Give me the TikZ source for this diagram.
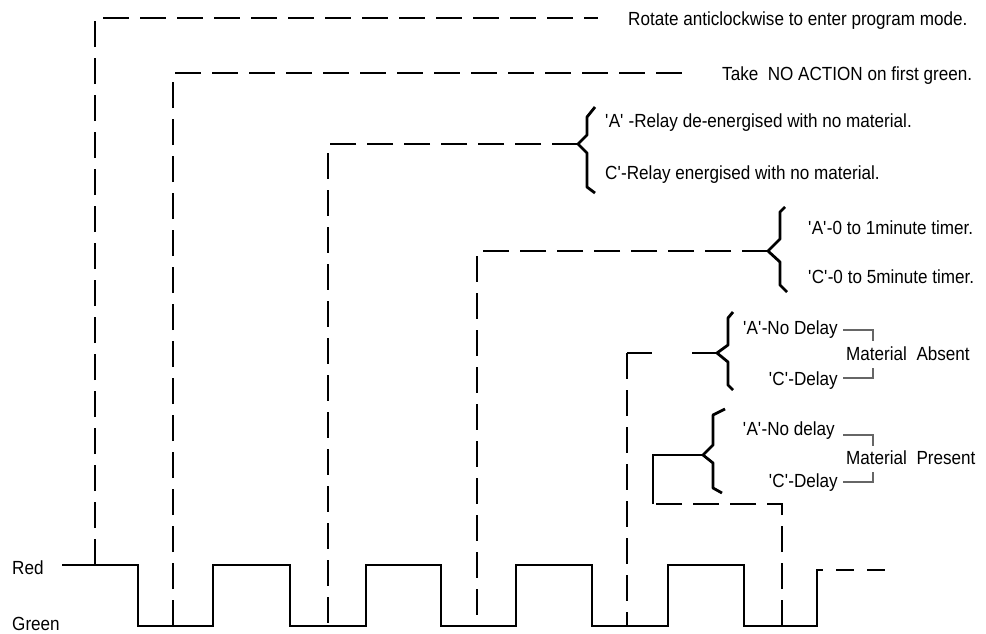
\documentclass[tikz,border=0pt]{standalone}
\usepackage{fontspec}
\setmainfont{Liberation Sans}[FakeStretch=0.9]
\usepackage{tikz}
\usetikzlibrary{calc}
\definecolor{ink}{HTML}{000000}
\definecolor{note}{HTML}{666666}
\newcommand{\sq}{\textquotesingle}

\begin{document}
\begin{tikzpicture}[x=1pt,y=-1pt,
  sig/.style={draw=ink,line width=2.8pt},
  lead/.style={draw=ink,line width=2.8pt,dash pattern=on 26pt off 11pt},
  brc/.style={draw=ink,line width=2.8pt,line join=round},
  grp/.style={draw=note,line width=2.2pt},
  txt/.style={anchor=base west,inner sep=0pt,font=\fontsize{19}{21}\selectfont},
  txr/.style={anchor=base east,inner sep=0pt,font=\fontsize{19}{21}\selectfont}
]
\useasboundingbox (0,0) rectangle (986,633);

\node[txt] (red) at (12,574) {Red};
\node[txt] (green) at (12,630) {Green};
\node[txt] (rot) at (628,25) {Rotate anticlockwise to enter program mode.};
\node[txt] (noact) at (722,80) {Take\ \ NO ACTION on first green.};
\node[txt] (relA) at (605,127) {\sq A\sq\ -Relay de-energised with no material.};
\node[txt] (relC) at (605,179) {C\sq-Relay energised with no material.};
\node[txt] (tmA) at (808,234) {\sq A\sq-0 to 1minute timer.};
\node[txt] (tmC) at (808,283) {\sq C\sq-0 to 5minute timer.};
\node[txr] (ndA) at (838,334) {\sq A\sq-No Delay};
\node[txr] (dlC) at (838,385) {\sq C\sq-Delay};
\node[txt] (mabs) at (846,360) {Material\ \ Absent};
\node[txr] (ndB) at (835,435) {\sq A\sq-No delay};
\node[txr] (dlD) at (838,487) {\sq C\sq-Delay};
\node[txt] (mpres) at (846,464) {Material\ \ Present};

\coordinate (w0) at (62,565);
\coordinate (f1) at (95,565);
\coordinate (e1) at (598,18);
\coordinate (f2) at (173,626);
\coordinate (e2) at (688,73);
\coordinate (f3) at (328,626);
\coordinate (t3) at (578,144);
\coordinate (f4) at (477,626);
\coordinate (t4) at (768,251);
\coordinate (f5) at (627,626);
\coordinate (c5) at (627,353);
\coordinate (t5) at (717,353);
\coordinate (f6) at (782,626);
\coordinate (c6) at (653,504);
\coordinate (t6) at (703,455);

\draw[sig] (w0) -| (138,626) -| (213,565) -| (290,626) -| (366,565) -| (441,626)
  -| (516,565) -| (592,626) -| (668,565) -| (744,626) -| (817,582);
\draw[lead,dash pattern=on 18pt off 13pt] (817,582) |- (892,570);

\draw[lead] (f1) |- (e1);
\draw[lead] (f2) |- (e2);
\draw[lead] (t3) -| (f3);
\draw[lead] (t4) -| (f4);
\draw[lead] (c5) -- (f5);
\draw[sig] (c5) -- ++(25,0);
\draw[sig] ([xshift=-25pt]t5) -- (t5);
\draw[lead] (f6) |- (c6);
\draw[sig] (c6) |- (t6);

\draw[brc] ([shift={(17,-37)}]t3) -- ++(-8,10) -- ++(0,18) -- ++(-9,9) -- ++(9,9) -- ++(0,34) -- ++(8,6);
\draw[brc] ([shift={(17,-44)}]t4) -- ++(-5,5) -- ++(0,27) -- ++(-12,12) -- ++(12,11) -- ++(0,23) -- ++(7,7);
\draw[brc] ([shift={(16,-41)}]t5) -- ++(-5,6) -- ++(0,27) -- ++(-11,8) -- ++(11,9) -- ++(0,23) -- ++(5,5);
\draw[brc] ([shift={(22,-46)}]t6) -- ++(-12,6) -- ++(0,30) -- ++(-10,10) -- ++(10,8) -- ++(0,25) -- ++(9,5);

\draw[grp] ([shift={(5,-4)}]ndA.base east) -- ++(30,0) -- ++(0,11);
\draw[grp] ([shift={(5,-7)}]dlC.base east) -- ++(30,0) -- ++(0,-10);
\draw[grp] ([shift={(8,0)}]ndB.base east) -- ++(30,0) -- ++(0,11);
\draw[grp] ([shift={(5,-5)}]dlD.base east) -- ++(30,0) -- ++(0,-10);
\end{tikzpicture}
\end{document}
